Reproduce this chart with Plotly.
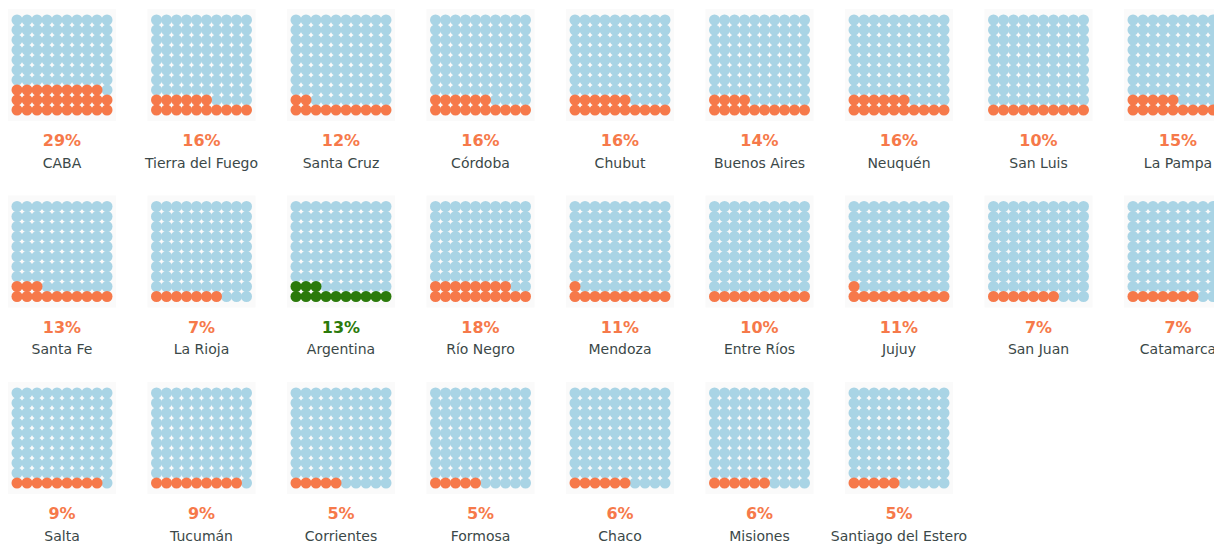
import plotly.graph_objects as go

names_row1 = ["CABA", "Tierra del Fuego", "Santa Cruz", "Córdoba", "Chubut",
              "Buenos Aires", "Neuquén", "San Luis", "La Pampa"]
values_row1 = [29, 16, 12, 16, 16, 14, 16, 10, 15]
names_row2 = ["Santa Fe", "La Rioja", "Argentina", "Río Negro", "Mendoza",
              "Entre Ríos", "Jujuy", "San Juan", "Catamarca"]
values_row2 = [13, 7, 13, 18, 11, 10, 11, 7, 7]
names_row3 = ["Salta", "Tucumán", "Corrientes", "Formosa", "Chaco",
              "Misiones", "Santiago del Estero"]
values_row3 = [9, 9, 5, 5, 6, 6, 5]
highlight = "Argentina"

W, H = 1222, 545
PAGE_OFF = 8             # default body margin of the html page
X0, Y0 = 12, 15          # top-left of first grid (page pixels)
DX, DY = 139.5, 186.5    # cell spacing
STEP = 10                # dot spacing
DOT = 11

BLUE = "#a9d4e5"
ORANGE = "#f6794a"
GREEN = "#2b7a0b"
NAME_C = "#3b4848"

rows = [(names_row1, values_row1), (names_row2, values_row2), (names_row3, values_row3)]

fig = go.Figure()
bx, by, ox, oy, gx, gy = [], [], [], [], [], []
px, py, ptxt, pcol, nx, ny, ntxt = [], [], [], [], [], [], []
shapes = []
for r, (names, vals) in enumerate(rows):
    for c, (n, v) in enumerate(zip(names, vals)):
        x0 = X0 + c * DX
        y0 = Y0 + r * DY
        shapes.append(dict(type="rect", xref="x", yref="y", x0=x0 - 4, x1=x0 + 10 * STEP + 4,
                           y0=y0 - 6, y1=y0 + 10 * STEP + 6, fillcolor="#fafafa",
                           line=dict(width=0), layer="below"))
        for k in range(100):
            row_i = k // 10
            col_i = k % 10
            cx = x0 + STEP / 2 + col_i * STEP
            cy = y0 + 10 * STEP - STEP / 2 - row_i * STEP
            if k < v:
                if n == highlight:
                    gx.append(cx); gy.append(cy)
                else:
                    ox.append(cx); oy.append(cy)
            else:
                bx.append(cx); by.append(cy)
        px.append(x0 + 5 * STEP); py.append(y0 + 127)
        ptxt.append(f"<b>{v}%</b>"); pcol.append(GREEN if n == highlight else ORANGE)
        nx.append(x0 + 5 * STEP); ny.append(y0 + 149); ntxt.append(n)

for xs, ys, col in [(bx, by, BLUE), (ox, oy, ORANGE), (gx, gy, GREEN)]:
    fig.add_trace(go.Scatter(x=xs, y=ys, mode="markers",
                             marker=dict(size=DOT, color=col, line=dict(width=0)),
                             hoverinfo="skip", showlegend=False))

fig.add_trace(go.Scatter(x=px, y=py, mode="text", text=ptxt,
                         textfont=dict(family="DejaVu Sans", size=16, color=pcol),
                         hoverinfo="skip", showlegend=False))
fig.add_trace(go.Scatter(x=nx, y=ny, mode="text", text=ntxt,
                         textfont=dict(family="DejaVu Sans", size=14, color=NAME_C),
                         hoverinfo="skip", showlegend=False))

fig.update_layout(
    width=W - PAGE_OFF, height=H - PAGE_OFF, margin=dict(l=0, r=0, t=0, b=0),
    paper_bgcolor="white", plot_bgcolor="white",
    xaxis=dict(range=[PAGE_OFF, W], visible=False, fixedrange=True),
    yaxis=dict(range=[H, PAGE_OFF], visible=False, fixedrange=True),
    shapes=shapes,
)
fig.write_html("out.html", config={"displayModeBar": False})
